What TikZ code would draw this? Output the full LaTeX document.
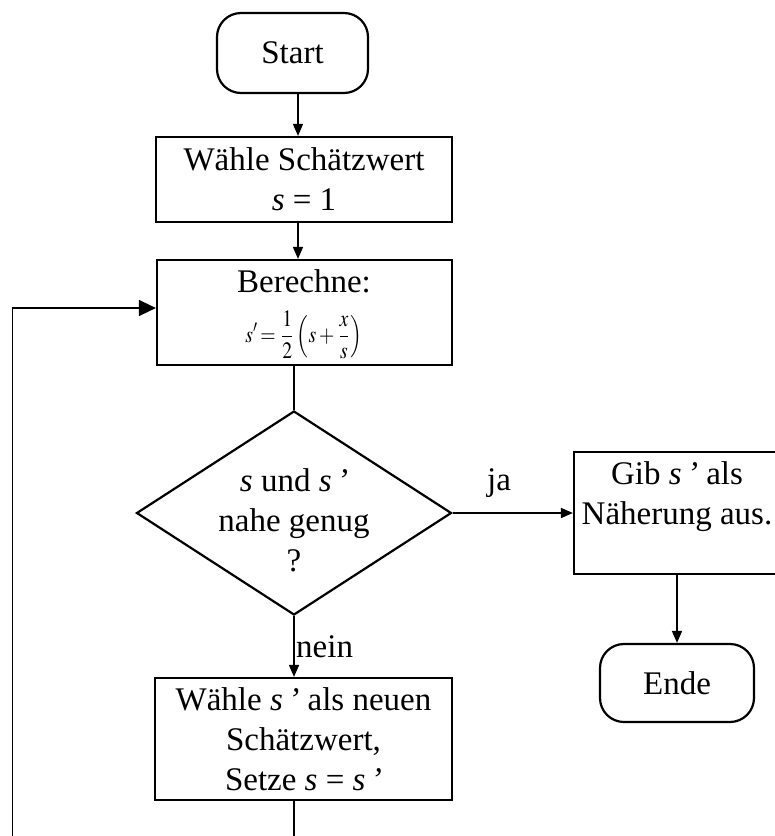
\documentclass[tikz,border=0pt]{standalone}
\usepackage{mathptmx}
\usepackage{graphicx}
\usepackage[no-math]{fontspec}
\setmainfont{Liberation Serif}
\usetikzlibrary{shapes.geometric,arrows.meta}

\begin{document}
\begin{tikzpicture}[x=1pt,y=-1pt,
  font=\fontsize{33}{40}\selectfont,
  box/.style={draw, line width=2.2pt, align=center, inner sep=0pt},
  term/.style={box, rounded corners=24pt},
  conn/.style={line width=1.6pt},
  arr/.style={conn, -{Triangle[length=12pt,width=10pt]}},
  looparr/.style={conn, -{Triangle[length=17pt,width=16pt]}},
  txt/.style={align=center, inner sep=0pt}]
\useasboundingbox (0,0) rectangle (775,836);

% nodes
\node[term, minimum width=151pt, minimum height=80pt] (start) at (292.5,53) {Start};
\node[box, minimum width=296pt, minimum height=85pt] (init) at (304,179.5)
  {Wähle Schätzwert\\\textit{s} = 1};
\node[box, minimum width=295pt, minimum height=105pt] (calc) at (304.5,312.5) {};
\node[txt, anchor=base] (calctitle) at (304,292) {Berechne:};
\node[txt] (formula) at (304,335)
  {\resizebox*{117pt}{48pt}{\normalsize$\displaystyle s'\!=\frac{1}{2}\left(s+\frac{x}{s}\right)$}};
\node[diamond, draw, line width=2.2pt, minimum width=315pt, minimum height=204pt, inner sep=0pt] (test) at (294,513) {};
\node[txt] (testtext) at (294,520) {\textit{s} und \textit{s\,’}\\nahe genug\\?};
\node[box, minimum width=206pt, minimum height=122pt] (out) at (677,513)
  {Gib \textit{s\,’} als\\Näherung aus.\\\mbox{}};
\node[term, minimum width=154pt, minimum height=78pt] (ende) at (677,683) {Ende};
\node[box, minimum width=297pt, minimum height=122pt] (upd) at (303.5,739)
  {Wähle \textit{s\,’} als neuen\\Schätzwert,\\Setze \textit{s} = \textit{s\,’}};

% labels
\node[txt, anchor=base] (ja) at (499,490) {ja};
\node[txt, anchor=base west] (nein) at (296,657) {nein};

% connectors
\coordinate (spine) at (298,0);
\coordinate (loopcorner) at (12.5,870);
\coordinate (loopin) at (0,308);
\draw[arr] (start.south -| spine) -- (init.north -| spine);
\draw[arr] (init.south -| spine) -- (calc.north -| spine);
\draw[conn] (calc.south -| test.north) -- (test.north);
\draw[arr] (test.east) -- (out.west);
\draw[arr] (test.south) -- (upd.north -| test.south);
\draw[arr] (out.south) -- (ende.north);
\draw[looparr] (upd.south -| test.south) |- (loopcorner) |- (calc.west |- loopin);
\end{tikzpicture}
\end{document}
